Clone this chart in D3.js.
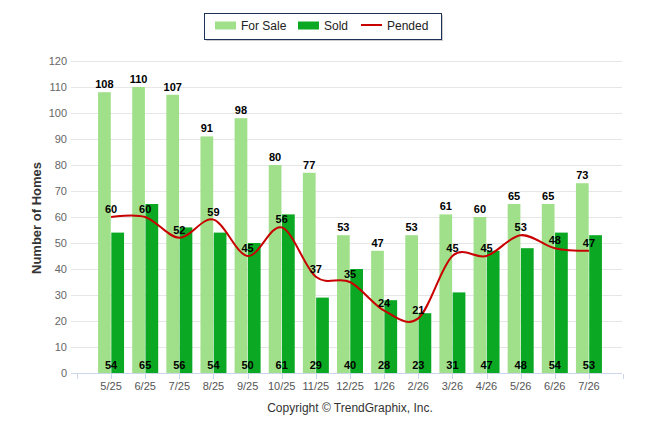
<!DOCTYPE html>
<html>
<head>
<meta charset="utf-8">
<script src="https://cdn.jsdelivr.net/npm/d3@7.9.0/dist/d3.min.js"></script>
<style>
  body { margin: 0; background: #fff; }
  svg { display: block; font-family: "Liberation Sans", Arial, sans-serif; }
</style>
</head>
<body>
<svg id="chart" width="646" height="434"></svg>
<script>
const months = ['5/25', '6/25', '7/25', '8/25', '9/25', '10/25', '11/25', '12/25',
  '1/26', '2/26', '3/26', '4/26', '5/26', '6/26', '7/26'];
const forSale = [108, 110, 107, 91, 98, 80, 77, 53, 47, 53, 61, 60, 65, 65, 73];
const sold = [54, 65, 56, 54, 50, 61, 29, 40, 28, 23, 31, 47, 48, 54, 53];
const pended = [60, 60, 52, 59, 45, 56, 37, 35, 24, 21, 45, 45, 53, 48, 47];
const yTicks = [0, 10, 20, 30, 40, 50, 60, 70, 80, 90, 100, 110, 120];

const colors = { forSale: '#a0e08b', sold: '#0aa823', pended: '#c80000' };

const svg = d3.select('#chart');
const plotLeft = 71, plotRight = 622;

let x = d3.scaleBand().domain(months).range([94, 606]);
let center = (m) => x(m) + x.bandwidth() / 2;
let inner = d3.scaleBand().domain(['forSale', 'sold']).range([-13, 13]).paddingInner(0.04);
let y = d3.scaleLinear().domain([0, 120]).range([373, 61]);

// grid + y labels
let grid = svg.append('g');
yTicks.forEach((t) => {
  grid.append('line')
    .attr('x1', plotLeft).attr('x2', plotRight)
    .attr('y1', Math.round(y(t)) + 0.5).attr('y2', Math.round(y(t)) + 0.5)
    .attr('stroke', '#e6e6e6');
  grid.append('text')
    .attr('x', 67).attr('y', y(t)).attr('dy', '0.35em')
    .attr('text-anchor', 'end')
    .attr('font-size', 11).attr('fill', '#666')
    .text(t);
});

// y title
svg.append('text')
  .attr('transform', 'translate(41,218) rotate(-90)')
  .attr('text-anchor', 'middle')
  .attr('font-size', 13).attr('font-weight', 'bold').attr('fill', '#333')
  .text('Number of Homes');

// bars
let groups = svg.append('g').selectAll('g')
  .data(months)
  .join('g');

groups.append('rect')
  .attr('x', (m) => center(m) + inner('forSale'))
  .attr('y', (m, i) => y(forSale[i]))
  .attr('width', inner.bandwidth())
  .attr('height', (m, i) => y(0) - y(forSale[i]))
  .attr('fill', colors.forSale);

groups.append('rect')
  .attr('x', (m) => center(m) + inner('sold'))
  .attr('y', (m, i) => y(sold[i]))
  .attr('width', inner.bandwidth())
  .attr('height', (m, i) => y(0) - y(sold[i]))
  .attr('fill', colors.sold);

// x axis
let axis = svg.append('g');
axis.append('line')
  .attr('x1', plotLeft).attr('x2', plotRight)
  .attr('y1', 373.5).attr('y2', 373.5)
  .attr('stroke', '#ccd6eb');
let step = x.step();
d3.range(-1, months.length + 1).forEach((k) => {
  let tx = Math.round(center(months[0]) + k * step) + 0.5;
  axis.append('line')
    .attr('x1', tx).attr('x2', tx)
    .attr('y1', 374).attr('y2', 379)
    .attr('stroke', '#ccd6eb');
});
axis.selectAll('text.xl')
  .data(months)
  .join('text')
  .attr('class', 'xl')
  .attr('x', (m) => center(m))
  .attr('y', 390)
  .attr('text-anchor', 'middle')
  .attr('font-size', 11).attr('fill', '#555')
  .text((m) => m);

// pended spline
let line = d3.line()
  .x((d, i) => center(months[i]))
  .y((d) => y(d))
  .curve(d3.curveCardinal.tension(0));

svg.append('path')
  .attr('d', line(pended))
  .attr('fill', 'none')
  .attr('stroke', colors.pended)
  .attr('stroke-width', 2);

// data labels
let labels = svg.append('g')
  .attr('font-size', 11).attr('font-weight', 'bold').attr('fill', '#000')
  .attr('text-anchor', 'middle');

months.forEach((m, i) => {
  labels.append('text')
    .attr('x', center(m) + inner('forSale') + inner.bandwidth() / 2)
    .attr('y', y(forSale[i]) - 4)
    .text(forSale[i]);
  labels.append('text')
    .attr('x', center(m))
    .attr('y', 369)
    .text(sold[i]);
  labels.append('text')
    .attr('x', center(m))
    .attr('y', y(pended[i]) - 4)
    .text(pended[i]);
});

// legend
let legend = svg.append('g');
legend.append('rect')
  .attr('x', 206).attr('y', 15).attr('width', 237).attr('height', 26)
  .attr('fill', '#999').attr('opacity', 0.5);
legend.append('rect')
  .attr('x', 204.5).attr('y', 13.5).attr('width', 237).attr('height', 26)
  .attr('fill', '#fff').attr('stroke', '#1c3155');

let legendItems = [
  { label: 'For Sale', color: colors.forSale, type: 'rect', x: 215, tx: 241 },
  { label: 'Sold', color: colors.sold, type: 'rect', x: 298, tx: 324 },
  { label: 'Pended', color: colors.pended, type: 'line', x: 361, tx: 387 }
];
legendItems.forEach((d) => {
  if (d.type === 'rect') {
    legend.append('rect')
      .attr('x', d.x).attr('y', 21.5).attr('width', 21).attr('height', 8)
      .attr('fill', d.color);
  } else {
    legend.append('line')
      .attr('x1', d.x).attr('x2', d.x + 21)
      .attr('y1', 25).attr('y2', 25)
      .attr('stroke', d.color).attr('stroke-width', 2);
  }
  legend.append('text')
    .attr('x', d.tx).attr('y', 30)
    .attr('font-size', 12).attr('fill', '#222')
    .text(d.label);
});

// credits
svg.append('text')
  .attr('x', 350).attr('y', 412)
  .attr('text-anchor', 'middle')
  .attr('font-size', 12).attr('fill', '#333')
  .text('Copyright © TrendGraphix, Inc.');
</script>
</body>
</html>
